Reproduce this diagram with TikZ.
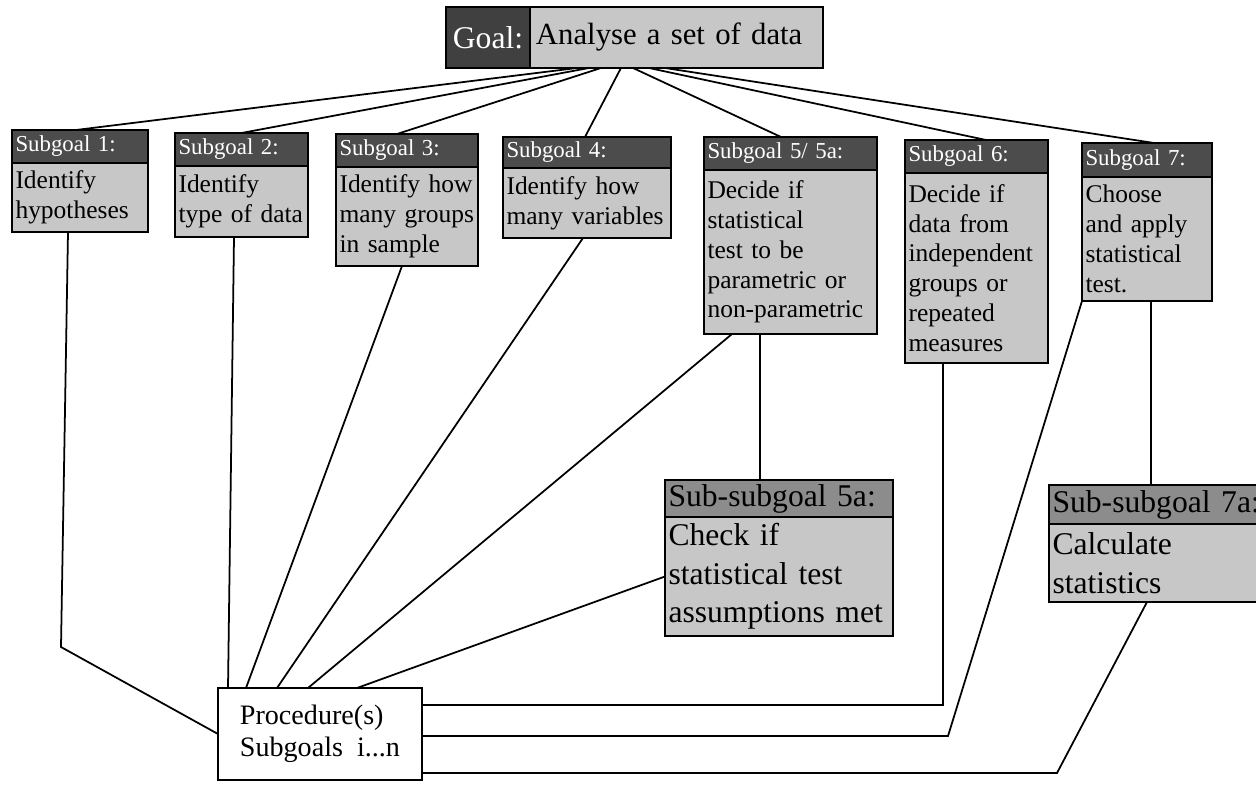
\documentclass[tikz,border=0pt]{standalone}
\usepackage{fontspec}
\setmainfont{Liberation Serif}
\usetikzlibrary{positioning}

\begin{document}
\begin{tikzpicture}[x=0.02cm, y=-0.02cm, line width=1pt,
    hdr/.style={draw, fill=black!70, text=white, anchor=north west, align=left, outer sep=0pt,
        inner xsep=2pt, inner ysep=0pt, font=\fontsize{13}{15}\selectfont},
    sbody/.style={draw, fill=black!22, anchor=north west, align=left, outer sep=0pt,
        inner xsep=2pt, inner ysep=0pt, font=\fontsize{14.5}{17}\selectfont},
    subhdr/.style={hdr, fill=black!45, text=black, font=\fontsize{18}{20}\selectfont},
    subbody/.style={sbody, font=\fontsize{18}{22}\selectfont}]
    \useasboundingbox (0,0) rectangle (1256,784);

    % Goal
    \node[hdr, fill=black!75, minimum width=1.68cm, minimum height=1.22cm, font=\fontsize{18}{20}\selectfont] (g) at (446,7) {Goal:};
    \node[sbody, right=0pt of g, inner xsep=0.12cm, text width=5.62cm, minimum height=1.22cm, font=\fontsize{17.5}{20}\selectfont] (gb) {Analyse a set of data};

    % Subgoals
    \node[hdr, text width=2.58cm, minimum height=0.66cm] (h1) at (12,130) {Subgoal 1:};
    \node[sbody, below=0pt of h1, text width=2.58cm, minimum height=1.38cm] (b1) {Identify\\hypotheses};
    \node[hdr, text width=2.52cm, minimum height=0.66cm] (h2) at (175,133) {Subgoal 2:};
    \node[sbody, below=0pt of h2, text width=2.52cm, minimum height=1.42cm] (b2) {Identify\\type of data};
    \node[hdr, text width=2.70cm, minimum height=0.66cm] (h3) at (336,134) {Subgoal 3:};
    \node[sbody, below=0pt of h3, text width=2.70cm, minimum height=1.98cm] (b3) {Identify how\\many groups\\in sample};
    \node[hdr, text width=3.22cm, minimum height=0.62cm] (h4) at (503,137) {Subgoal 4:};
    \node[sbody, below=0pt of h4, text width=3.22cm, minimum height=1.40cm] (b4) {Identify how\\many variables};
    \node[hdr, text width=3.32cm, minimum height=0.66cm] (h5) at (704,137) {Subgoal 5/ 5a:};
    \node[sbody, below=0pt of h5, text width=3.32cm, minimum height=3.28cm] (b5) {Decide if\\statistical\\test to be\\parametric or\\non-parametric};
    \node[hdr, text width=2.72cm, minimum height=0.66cm] (h6) at (905,140) {Subgoal 6:};
    \node[sbody, below=0pt of h6, text width=2.72cm, minimum height=3.80cm] (b6) {Decide if\\data from\\independent\\groups or\\repeated\\measures};
    \node[hdr, text width=2.46cm, minimum height=0.68cm] (h7) at (1082,143) {Subgoal 7:};
    \node[sbody, below=0pt of h7, text width=2.46cm, minimum height=2.48cm] (b7) {Choose\\and apply\\statistical\\test.};

    % Sub-subgoals
    \node[subhdr, text width=4.42cm, minimum height=0.74cm] (h5a) at (665,480) {Sub-subgoal 5a:};
    \node[subbody, below=0pt of h5a, text width=4.42cm, minimum height=2.38cm] (b5a) {Check if\\statistical test\\assumptions met};
    \node[subhdr, text width=4.88cm, minimum height=0.78cm] (h7a) at (1049,485) {Sub-subgoal 7a:};
    \node[subbody, below=0pt of h7a, text width=4.88cm, minimum height=1.56cm] (b7a) {Calculate\\statistics};

    % Procedures
    \node[draw, fill=white, anchor=north west, outer sep=0pt, minimum width=4.08cm, minimum height=1.84cm,
        align=left, font=\fontsize{16}{18.5}\selectfont] (pr) at (218,688) {Procedure(s)\\Subgoals\ \ i...n};

    % Goal to subgoals
    \foreach \i/\dx/\tx in {1/-1.99/-0.08, 2/-1.75/0, 3/-1.51/-0.2, 4/-1.11/-0.04, 5/-0.87/-0.19, 6/-0.55/0.19, 7/-0.23/0.14} {
        \draw ([xshift=\dx cm]gb.south) -- ([xshift=\tx cm]h\i.north);
    }

    % Subgoals to procedures
    \coordinate (k1) at (61,647);
    \draw ([xshift=-0.24cm]b1.south) -- (k1) -- (pr.west);
    \draw ([xshift=-0.15cm]b2.south) -- ([xshift=0.2cm]pr.north west);
    \draw ([xshift=-0.1cm]b3.south) -- ([xshift=0.56cm]pr.north west);
    \draw ([xshift=-0.08cm]b4.south) -- ([xshift=1.18cm]pr.north west);
    \draw ([xshift=-1.17cm]b5.south) -- ([xshift=1.8cm]pr.north west);
    \draw (b5a.west) -- ([xshift=2.78cm]pr.north west);
    \draw ([xshift=-0.61cm]b5.south) -- ([xshift=-0.61cm]b5.south |- h5a.north);
    \draw ([xshift=-0.67cm]b6.south) |- ([yshift=0.58cm]pr.east);
    \coordinate (k7) at (948,736);
    \draw (b7.south west) -- (k7) -- (k7 -| pr.east);
    \draw ([xshift=0.08cm]b7.south) -- ([xshift=0.08cm]b7.south |- h7a.north);
    \coordinate (k7a) at (1057,773);
    \draw ([xshift=-0.55cm]b7a.south) -- (k7a) -- (k7a -| pr.east);
\end{tikzpicture}
\end{document}
